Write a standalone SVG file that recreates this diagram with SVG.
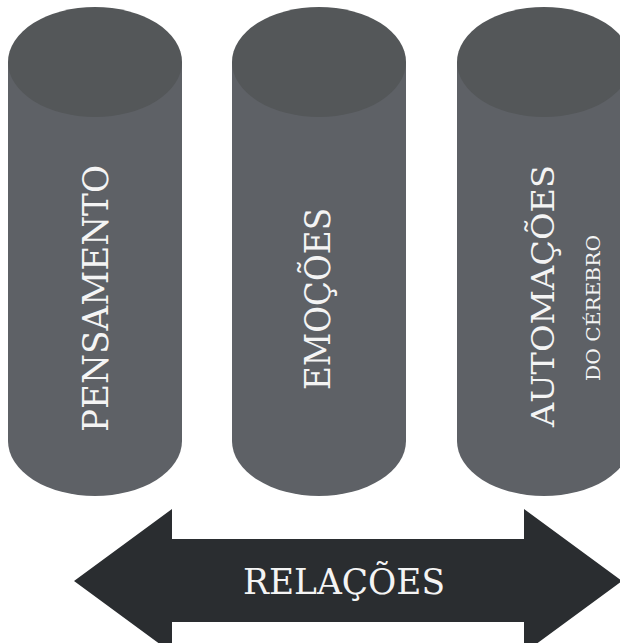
<svg xmlns="http://www.w3.org/2000/svg" width="620" height="643" viewBox="0 0 620 643">
<style>
.body{fill:#5e6166}
.top{fill:#545759}
.lbl{font-family:"DejaVu Serif","Liberation Serif",serif;fill:#f4f4f4;text-anchor:middle}
.arrow{fill:#2a2d30}
</style>
<rect width="620" height="643" fill="#ffffff"/>
<g id="pensamento">
<path class="body" d="M8,62 V441 A87,55 0 0 0 182,441 V62 Z"/>
<ellipse class="top" cx="95" cy="62" rx="87" ry="55"/>
<text class="lbl" font-size="36" transform="translate(108,298.5) rotate(-90)" textLength="267" lengthAdjust="spacingAndGlyphs">PENSAMENTO</text>
</g>
<g id="emocoes">
<path class="body" d="M232,62 V441 A87,55 0 0 0 406,441 V62 Z"/>
<ellipse class="top" cx="319" cy="62" rx="87" ry="55"/>
<text class="lbl" font-size="34.5" transform="translate(330,299) rotate(-90)" textLength="182" lengthAdjust="spacingAndGlyphs">EMOÇÕES</text>
</g>
<g id="automacoes">
<path class="body" d="M457,62 V441 A87,55 0 0 0 631,441 V62 Z"/>
<ellipse class="top" cx="544" cy="62" rx="87" ry="55"/>
<text class="lbl" font-size="32.5" transform="translate(554,296) rotate(-90)" textLength="262" lengthAdjust="spacingAndGlyphs">AUTOMAÇÕES</text>
<text class="lbl" font-size="18" transform="translate(600,308) rotate(-90)" textLength="146" lengthAdjust="spacingAndGlyphs">DO CÉREBRO</text>
</g>
<g id="connectors">
<path class="arrow" d="M74,581 L172,509 V539 H524 V509 L622,581 L524,653 V622 H172 V653 Z"/>
</g>
<g id="relacoes">
<text class="lbl" font-size="36" x="344" y="594" textLength="202" lengthAdjust="spacingAndGlyphs">RELAÇÕES</text>
</g>
</svg>
